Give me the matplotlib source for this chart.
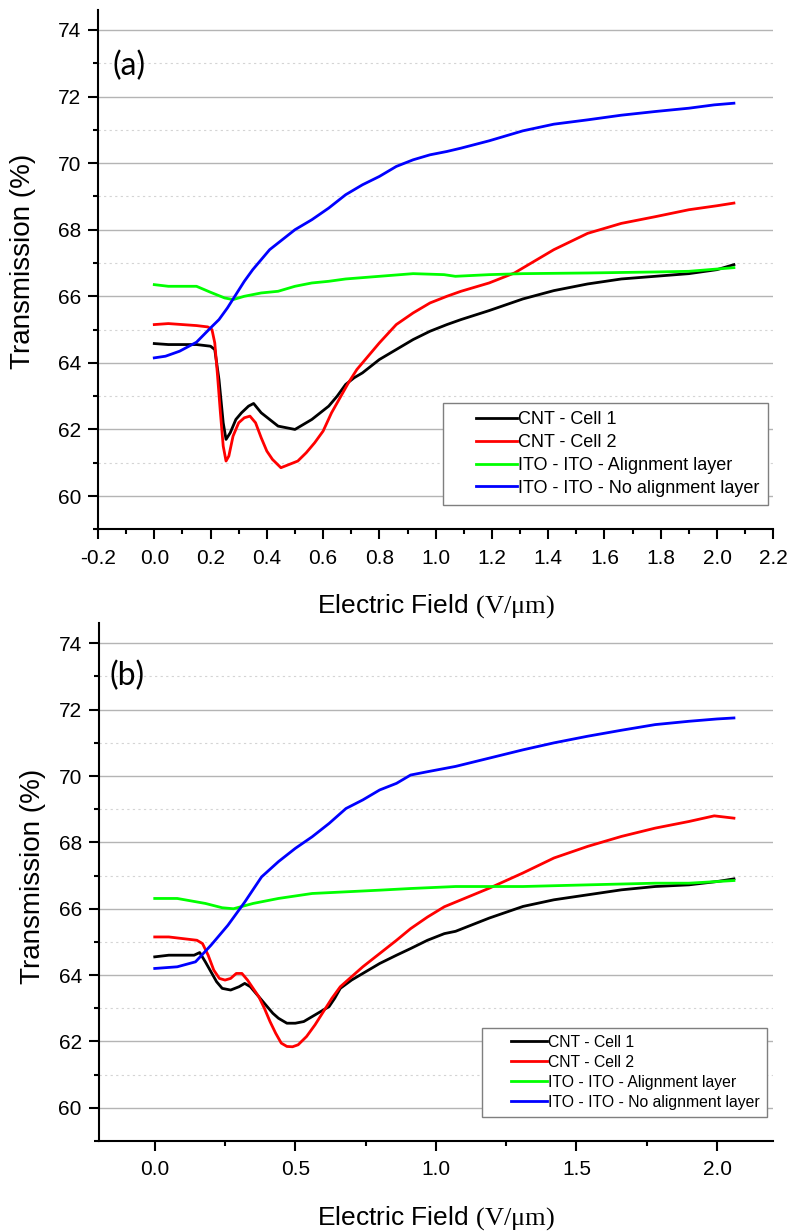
import matplotlib
matplotlib.use("Agg")
import matplotlib.pyplot as plt
from matplotlib.lines import Line2D
from matplotlib.legend_handler import HandlerLine2D
from matplotlib.ticker import MultipleLocator, FormatStrFormatter

plt.rcParams['font.family'] = ['Liberation Sans', 'DejaVu Sans']
plt.rcParams['mathtext.fontset'] = 'custom'
plt.rcParams['mathtext.rm'] = 'Liberation Serif'
plt.rcParams['mathtext.it'] = 'Liberation Serif:italic'
plt.rcParams['axes.unicode_minus'] = False

labels = ["CNT - Cell 1", "CNT - Cell 2",
          "ITO - ITO - Alignment layer", "ITO - ITO - No alignment layer"]
colors = ["#000000", "#ff0000", "#00ff00", "#0000ff"]

# ---- panel (a) ----
a_cnt1_x = [0.00, 0.05, 0.10, 0.15, 0.20, 0.215, 0.23, 0.245, 0.255, 0.27, 0.29, 0.31,
            0.335, 0.353, 0.38, 0.41, 0.44, 0.47, 0.50, 0.53, 0.56, 0.59, 0.62, 0.65,
            0.68, 0.71, 0.74, 0.77, 0.80, 0.86, 0.92, 0.98, 1.04, 1.09, 1.19, 1.31,
            1.42, 1.54, 1.66, 1.78, 1.90, 2.00, 2.06]
a_cnt1_y = [64.58, 64.55, 64.55, 64.55, 64.50, 64.40, 63.50, 62.20, 61.70, 61.90, 62.30, 62.50,
            62.70, 62.78, 62.50, 62.30, 62.10, 62.05, 62.00, 62.15, 62.30, 62.50, 62.70, 63.00,
            63.35, 63.55, 63.70, 63.90, 64.10, 64.40, 64.70, 64.95, 65.15, 65.30, 65.57, 65.92,
            66.17, 66.37, 66.52, 66.60, 66.68, 66.80, 66.95]

a_cnt2_x = [0.00, 0.05, 0.10, 0.15, 0.19, 0.205, 0.215, 0.225, 0.235, 0.245, 0.255, 0.265,
            0.28, 0.30, 0.32, 0.34, 0.36, 0.38, 0.40, 0.42, 0.45, 0.48, 0.51, 0.54, 0.57,
            0.60, 0.63, 0.66, 0.69, 0.72, 0.75, 0.80, 0.86, 0.92, 0.98, 1.04, 1.09, 1.19,
            1.28, 1.42, 1.54, 1.66, 1.78, 1.90, 2.00, 2.06]
a_cnt2_y = [65.15, 65.18, 65.15, 65.12, 65.08, 65.00, 64.60, 63.60, 62.50, 61.50, 61.05, 61.20,
            61.80, 62.20, 62.35, 62.40, 62.20, 61.75, 61.35, 61.10, 60.85, 60.95, 61.05, 61.30, 61.60,
            61.95, 62.50, 62.95, 63.40, 63.80, 64.10, 64.60, 65.15, 65.50, 65.80, 66.00, 66.15, 66.40,
            66.70, 67.40, 67.89, 68.19, 68.39, 68.60, 68.72, 68.80]

a_ali_x = [0.00, 0.05, 0.10, 0.15, 0.20, 0.25, 0.28, 0.32, 0.38, 0.44, 0.50, 0.56, 0.62,
           0.68, 0.80, 0.92, 1.03, 1.07, 1.19, 1.31, 1.54, 1.78, 1.90, 2.06]
a_ali_y = [66.35, 66.30, 66.30, 66.30, 66.12, 65.95, 65.90, 66.00, 66.10, 66.15, 66.30, 66.40, 66.45,
           66.52, 66.60, 66.68, 66.65, 66.60, 66.65, 66.68, 66.70, 66.73, 66.75, 66.86]

a_noali_x = [0.00, 0.04, 0.09, 0.15, 0.20, 0.23, 0.26, 0.29, 0.32, 0.35, 0.38, 0.41, 0.44,
             0.50, 0.56, 0.62, 0.68, 0.74, 0.80, 0.86, 0.92, 0.98, 1.04, 1.09, 1.19, 1.31,
             1.42, 1.54, 1.66, 1.78, 1.90, 1.99, 2.06]
a_noali_y = [64.15, 64.20, 64.35, 64.62, 65.05, 65.30, 65.65, 66.05, 66.45, 66.80, 67.10, 67.40, 67.60,
             68.00, 68.30, 68.65, 69.05, 69.35, 69.60, 69.90, 70.10, 70.25, 70.35, 70.45, 70.67, 70.97,
             71.17, 71.30, 71.44, 71.55, 71.65, 71.75, 71.80]

# ---- panel (b) ----
b_cnt1_x = [0.00, 0.05, 0.10, 0.14, 0.16, 0.18, 0.20, 0.22, 0.24, 0.27, 0.30, 0.32, 0.34,
            0.36, 0.39, 0.42, 0.44, 0.47, 0.50, 0.53, 0.56, 0.59, 0.62, 0.64, 0.66, 0.70,
            0.75, 0.80, 0.86, 0.91, 0.97, 1.03, 1.07, 1.19, 1.31, 1.42, 1.54, 1.66, 1.78,
            1.90, 2.00, 2.06]
b_cnt1_y = [64.55, 64.60, 64.60, 64.60, 64.68, 64.40, 64.10, 63.80, 63.60, 63.55, 63.65, 63.75, 63.65,
            63.45, 63.15, 62.85, 62.70, 62.55, 62.55, 62.60, 62.75, 62.90, 63.05, 63.30, 63.60, 63.85,
            64.10, 64.35, 64.60, 64.80, 65.05, 65.25, 65.32, 65.72, 66.07, 66.27, 66.42, 66.57, 66.67,
            66.72, 66.82, 66.90]

b_cnt2_x = [0.00, 0.05, 0.10, 0.15, 0.17, 0.19, 0.21, 0.23, 0.25, 0.27, 0.29, 0.31, 0.33,
            0.35, 0.37, 0.39, 0.41, 0.43, 0.45, 0.47, 0.49, 0.51, 0.54, 0.57, 0.60, 0.63,
            0.66, 0.70, 0.74, 0.80, 0.86, 0.91, 0.97, 1.03, 1.07, 1.19, 1.31, 1.42, 1.54,
            1.66, 1.78, 1.90, 1.99, 2.06]
b_cnt2_y = [65.15, 65.15, 65.10, 65.05, 64.95, 64.60, 64.15, 63.90, 63.85, 63.90, 64.05, 64.05, 63.85,
            63.60, 63.35, 63.00, 62.60, 62.25, 61.95, 61.85, 61.84, 61.90, 62.15, 62.50, 62.90, 63.30,
            63.65, 63.95, 64.25, 64.65, 65.05, 65.40, 65.75, 66.06, 66.20, 66.62, 67.08, 67.53, 67.88,
            68.18, 68.43, 68.63, 68.80, 68.73]

b_ali_x = [0.00, 0.08, 0.18, 0.24, 0.28, 0.35, 0.44, 0.56, 0.68, 0.80, 0.91, 1.07, 1.31,
           1.54, 1.78, 1.90, 2.06]
b_ali_y = [66.31, 66.31, 66.16, 66.03, 66.00, 66.16, 66.31, 66.46, 66.51, 66.56, 66.61, 66.67, 66.67,
           66.72, 66.77, 66.77, 66.85]

b_noali_x = [0.00, 0.08, 0.145, 0.20, 0.26, 0.32, 0.38, 0.44, 0.50, 0.56, 0.62, 0.68, 0.74,
             0.80, 0.86, 0.91, 0.97, 1.07, 1.19, 1.31, 1.42, 1.54, 1.66, 1.78, 1.90, 2.00, 2.06]
b_noali_y = [64.20, 64.25, 64.40, 64.90, 65.50, 66.20, 66.96, 67.42, 67.82, 68.17, 68.57, 69.02, 69.28,
             69.58, 69.78, 70.03, 70.13, 70.29, 70.54, 70.79, 71.00, 71.20, 71.38, 71.55, 71.65, 71.72, 71.75]

panel_a = [(a_cnt1_x, a_cnt1_y), (a_cnt2_x, a_cnt2_y), (a_ali_x, a_ali_y), (a_noali_x, a_noali_y)]
panel_b = [(b_cnt1_x, b_cnt1_y), (b_cnt2_x, b_cnt2_y), (b_ali_x, b_ali_y), (b_noali_x, b_noali_y)]

W, H = 789, 1232
fig = plt.figure(figsize=(W / 100, H / 100), dpi=100)


def px_axes(left, top, right, bottom):
    return fig.add_axes([left / W, 1 - bottom / H, (right - left) / W, (bottom - top) / H])


def style_axes(ax, major_x, minor_x):
    ax.set_xlim(-0.2, 2.2)
    ax.set_ylim(59, 74.6)
    for s in ("top", "right"):
        ax.spines[s].set_visible(False)
    for s in ("left", "bottom"):
        ax.spines[s].set_linewidth(1.5)
    ax.yaxis.set_major_locator(MultipleLocator(2))
    ax.yaxis.set_minor_locator(MultipleLocator(1))
    ax.xaxis.set_major_locator(MultipleLocator(major_x))
    ax.xaxis.set_minor_locator(MultipleLocator(minor_x))
    ax.xaxis.set_major_formatter(FormatStrFormatter("%.1f"))
    ax.tick_params(which="major", direction="out", length=7, width=1.5, labelsize=15, pad=5)
    ax.tick_params(which="minor", direction="out", length=3.5, width=1.5)
    ax.tick_params(axis="x", which="major", pad=7)
    ax.yaxis.grid(True, which="major", color="#b4b4b4", lw=1.0, ls="-")
    ax.yaxis.grid(True, which="minor", color="#d4d4d4", lw=0.8, ls=(0, (2, 3)))
    ax.set_axisbelow(True)


def draw(ax, series, legend_fs, anchor, xpad):
    for (xs, ys), c, lab in zip(series, colors, labels):
        ax.plot(xs, ys, color=c, lw=2.0, label=lab)
    leg = ax.legend(loc="lower right", bbox_to_anchor=anchor, fontsize=legend_fs,
                    handlelength=2.3 + xpad, handletextpad=0.05, labelspacing=0.32,
                    borderpad=0.45, borderaxespad=0, fancybox=False, framealpha=1,
                    edgecolor="#7f7f7f",
                    handler_map={Line2D: HandlerLine2D(xpad=xpad)})
    leg.get_frame().set_linewidth(1.0)
    for ln in leg.get_lines():
        ln.set_linewidth(2.0)


xlabel = r"Electric Field $\mathrm{(V/\mu m)}$"

# (a)
ax1 = px_axes(98, 10, 773.3, 529.3)
style_axes(ax1, 0.2, 0.1)
draw(ax1, panel_a, 13, (0.992, 0.047), 1.4)
ax1.text(0.046, 0.892, "(a)", transform=ax1.transAxes, fontsize=23,
         family="Lato", ha="center", va="center")
fig.text(23 / W, 1 - 261.5 / H, "Transmission (%)", rotation=90, fontsize=20,
         ha="center", va="center")
fig.text(435.7 / W, 1 - 613 / H, xlabel, fontsize=19, ha="center", va="baseline")

# (b)
ax2 = px_axes(98.5, 623.4, 773.3, 1141)
style_axes(ax2, 0.5, 0.25)
draw(ax2, panel_b, 11.3, (0.9907, 0.0464), 1.4)
ax2.text(0.042, 0.899, "(b)", transform=ax2.transAxes, fontsize=23,
         family="Lato", ha="center", va="center")
fig.text(33 / W, 1 - 876 / H, "Transmission (%)", rotation=90, fontsize=20,
         ha="center", va="center")
fig.text(435.9 / W, 1 - 1225 / H, xlabel, fontsize=19, ha="center", va="baseline")

fig.savefig("out.png", dpi=100)
